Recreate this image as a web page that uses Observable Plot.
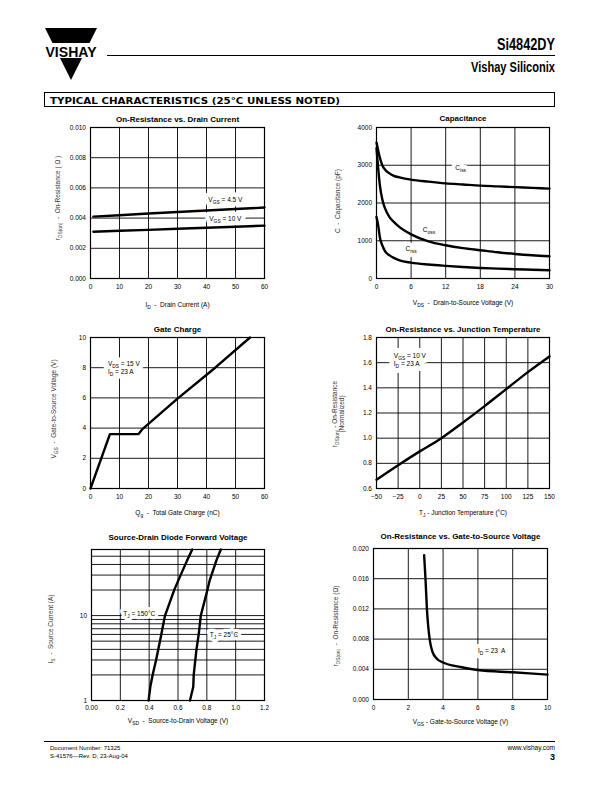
<!DOCTYPE html>
<html>
<head>
<meta charset="utf-8">
<script src="https://cdn.jsdelivr.net/npm/d3@7"></script>
<script src="https://cdn.jsdelivr.net/npm/@observablehq/plot@0.6"></script>
<style>
html, body { margin: 0; padding: 0; background: #fff; }
#page { position: relative; width: 612px; height: 792px; overflow: hidden; background: #fff; }
#page svg.chart { position: absolute; }
</style>
</head>
<body>
<div id="page">
<svg id="deco" width="612" height="792" style="position:absolute;left:0;top:0" font-family="Liberation Sans, Arial, Helvetica, sans-serif">
  <polygon points="45,28 97,28 71,80" fill="#000"/>
  <rect x="38" y="43" width="66" height="15" fill="#fff"/>
  <text x="71" y="57" text-anchor="middle" font-weight="bold" font-size="14" textLength="51" lengthAdjust="spacingAndGlyphs">VISHAY</text>
  <line x1="107" y1="55.5" x2="555" y2="55.5" stroke="#000" stroke-width="1"/>
  <text x="555" y="50" text-anchor="end" font-weight="bold" font-size="17" textLength="58" lengthAdjust="spacingAndGlyphs">Si4842DY</text>
  <text x="555" y="72" text-anchor="end" font-weight="bold" font-size="14" textLength="84" lengthAdjust="spacingAndGlyphs">Vishay Siliconix</text>
  <rect x="44.5" y="92.5" width="510" height="14" fill="none" stroke="#000" stroke-width="1"/>
  <text x="50" y="103.5" font-family="DejaVu Sans, sans-serif" font-weight="bold" font-size="9.5" textLength="290" lengthAdjust="spacingAndGlyphs">TYPICAL CHARACTERISTICS (25°C UNLESS NOTED)</text>
  <line x1="44" y1="741.5" x2="555" y2="741.5" stroke="#000" stroke-width="1"/>
  <text x="50" y="750" font-size="6">Document Number:  71325</text>
  <text x="50" y="758" font-size="6">S-41576—Rev. D, 23-Aug-04</text>
  <text x="555" y="750" text-anchor="end" font-size="6.5">www.vishay.com</text>
  <text x="555" y="760" text-anchor="end" font-size="9" font-weight="bold">3</text>
</svg>
</div>
<script>
const FONT = '"Liberation Sans", Arial, Helvetica, sans-serif';

// ---- Chart 1: On-Resistance vs. Drain Current ----
const c1Current = [1, 10, 20, 30, 40, 50, 60];
const c1Vgs45 = [0.00410, 0.00419, 0.00430, 0.00440, 0.00450, 0.00460, 0.00470];
const c1Vgs10 = [0.00310, 0.00316, 0.00322, 0.00329, 0.00336, 0.00343, 0.00350];
const c1XTicks = [0, 10, 20, 30, 40, 50, 60];
const c1YTicks = [0, 0.002, 0.004, 0.006, 0.008, 0.010];
const c1Notes = [
  {x: 46.5, y: 0.00522, text: "V_{GS} = 4.5 V"},
  {x: 46.5, y: 0.0040, text: "V_{GS} = 10 V"}
];

// ---- Chart 2: Capacitance ----
const c2VdsIss = [0, 0.5, 1, 1.5, 2, 3, 4, 6, 9, 12, 15, 18, 21, 24, 27, 30];
const c2Ciss = [3600, 3250, 3000, 2880, 2810, 2720, 2680, 2620, 2565, 2520, 2490, 2460, 2440, 2420, 2400, 2380];
const c2VdsOss = [0, 0.3, 0.6, 1, 1.5, 2.2, 3, 4, 6, 9, 12, 15, 18, 21, 24, 27, 30];
const c2Coss = [3450, 2900, 2450, 2100, 1850, 1640, 1500, 1360, 1170, 985, 880, 805, 750, 695, 650, 615, 590];
const c2VdsRss = [0, 0.3, 0.6, 1, 1.5, 2.2, 3, 4, 6, 9, 12, 15, 18, 21, 24, 27, 30];
const c2Crss = [1630, 1400, 1080, 880, 720, 620, 545, 480, 420, 370, 335, 305, 280, 262, 245, 232, 220];
const c2XTicks = [0, 6, 12, 18, 24, 30];
const c2YTicks = [0, 1000, 2000, 3000, 4000];
const c2Notes = [
  {x: 14.6, y: 2950, text: "C_{iss}"},
  {x: 9.1, y: 1310, text: "C_{oss}"},
  {x: 6.0, y: 790, text: "C_{rss}"}
];

// ---- Chart 3: Gate Charge ----
const c3Qg = [0, 6.7, 16.5, 18, 30, 43, 55];
const c3Vgs = [0, 3.6, 3.6, 3.95, 5.95, 8.0, 10];
const c3XTicks = [0, 10, 20, 30, 40, 50, 60];
const c3YTicks = [0, 2, 4, 6, 8, 10];
const c3Notes = [{x: 6, y: 8.0, text: "V_{DS} = 15 V\nI_{D} = 23 A"}];

// ---- Chart 4: On-Resistance vs. Junction Temperature ----
const c4Tj = [-50, -25, 0, 25, 50, 75, 100, 125, 150];
const c4Rds = [0.67, 0.785, 0.895, 1.0, 1.125, 1.255, 1.39, 1.525, 1.65];
const c4XTicks = [-50, -25, 0, 25, 50, 75, 100, 125, 150];
const c4YTicks = [0.6, 0.8, 1.0, 1.2, 1.4, 1.6, 1.8];
const c4Notes = [{x: -30, y: 1.625, text: "V_{GS} = 10 V\nI_{D} = 23 A"}];

// ---- Chart 5: Source-Drain Diode Forward Voltage ----
const c5Is150 = [1, 1.45, 2, 3, 5.3, 10, 20.5, 31, 45, 60];
const c5Vsd150 = [0.396, 0.408, 0.424, 0.448, 0.478, 0.51, 0.576, 0.622, 0.664, 0.699];
const c5Is25 = [1, 1.45, 2, 3.85, 6.1, 10, 20, 26, 45, 60];
const c5Vsd25 = [0.683, 0.706, 0.709, 0.727, 0.744, 0.758, 0.804, 0.82, 0.867, 0.897];
const c5XTicks = [0, 0.2, 0.4, 0.6, 0.8, 1.0, 1.2];
const c5YTicks = [1, 10, 60];
const c5YGrid = [1, 2, 3, 4, 5, 6, 7, 8, 9, 10, 20, 30, 40, 50, 60];
const c5Notes = [
  {x: 0.22, y: 10.7, text: "T_{J} = 150°C"},
  {x: 0.82, y: 6.0, text: "T_{J} = 25°C"}
];

// ---- Chart 6: On-Resistance vs. Gate-to-Source Voltage ----
const c6Vgs = [2.91, 2.99, 3.07, 3.14, 3.24, 3.39, 3.64, 4.0, 5.0, 6.0, 8.0, 10];
const c6Rds = [0.0191, 0.0159, 0.0120, 0.0098, 0.0078, 0.0063, 0.0054, 0.0049, 0.0043, 0.0039, 0.0036, 0.0033];
const c6XTicks = [0, 2, 4, 6, 8, 10];
const c6YTicks = [0, 0.004, 0.008, 0.012, 0.016, 0.020];
const c6Notes = [{x: 6.0, y: 0.0065, text: "I_{D} = 23\u00a0 A"}];

const SVGNS = "http://www.w3.org/2000/svg";
function subify(root) {
  const els = Array.from(root.querySelectorAll("text, tspan"));
  for (const el of els) {
    if (el.children.length) continue;
    const s = el.textContent;
    if (!s.includes("_{")) continue;
    el.textContent = "";
    const parts = s.split(/_\{([^}]*)\}/);
    parts.forEach((p, i) => {
      if (!p) return;
      const t = document.createElementNS(SVGNS, "tspan");
      t.textContent = p;
      if (i % 2) t.setAttribute("style", "font-size:75%;baseline-shift:-1.6px");
      el.appendChild(t);
    });
  }
}

const gridStyle = {stroke: "#000", strokeOpacity: 1, strokeWidth: 0.9};
const lineStyle = {stroke: "#000", strokeWidth: 2.4, strokeLinejoin: "round", strokeLinecap: "round"};

function chart(cfg) {
  const ML = 60, MT = 24, MR = 12, MB = 36;
  const f = cfg.frame;
  const width = f.r - f.l + ML + MR;
  const height = f.b - f.t + MT + MB;
  const noteOpts = {x: "x", y: "y", text: "text", textAnchor: cfg.noteAnchor || "start", lineAnchor: "middle", lineHeight: 1.25};
  const svg = Plot.plot({
    width, height,
    marginLeft: ML, marginRight: MR, marginTop: MT, marginBottom: MB,
    style: {fontFamily: FONT, fontSize: "6.5px", background: "none", color: "#000", overflow: "visible"},
    x: {domain: cfg.xDomain, type: cfg.xType || "linear"},
    y: {domain: cfg.yDomain, type: cfg.yType || "linear"},
    marks: [
      Plot.gridX(cfg.xGrid || cfg.xTicks, gridStyle),
      Plot.gridY(cfg.yGrid || cfg.yTicks, gridStyle),
      Plot.axisX(cfg.xTicks, {tickSize: 0, tickPadding: cfg.xPad ?? 5.5, tickFormat: cfg.xFormat, label: null}),
      Plot.axisY(cfg.yTicks, {tickSize: 0, tickPadding: 4.5, tickFormat: cfg.yFormat, label: null}),
      Plot.text(cfg.notes, {...noteOpts, fill: "#fff", stroke: "#fff", strokeWidth: cfg.halo || 9, strokeLinejoin: "round"}),
      Plot.text(cfg.notes, {...noteOpts, fill: "#000"}),
      Plot.frame({stroke: "#000", strokeWidth: 1.2}),
      ...cfg.lines.map(l => Plot.line(l.x, {x: l.x, y: l.y, curve: cfg.curve || "monotone-x", ...lineStyle})),
      Plot.text([cfg.title], {text: d => d, frameAnchor: "top", textAnchor: "middle", lineAnchor: "middle", dy: cfg.titleDy, fontWeight: "bold", fontSize: 8}),
      Plot.text([cfg.xLabel], {text: d => d, frameAnchor: "bottom", textAnchor: "middle", lineAnchor: "middle", dy: cfg.xLabelDy}),
      Plot.text([cfg.yLabel], {text: d => d, frameAnchor: "left", textAnchor: "middle", lineAnchor: "middle", rotate: -90, dx: cfg.yLabelDx, dy: cfg.yLabelDy || 0, fill: "#333", lineHeight: 1.1})
    ]
  });
  subify(svg);
  svg.classList.add("chart");
  svg.style.left = (f.l - ML) + "px";
  svg.style.top = (f.t - MT) + "px";
  document.getElementById("page").appendChild(svg);
}

const fmt3 = d3.format(".3f");
const fmtD = d3.format("d");

chart({
  frame: {l: 90, r: 264, t: 127, b: 278},
  xDomain: [0, 60], yDomain: [0, 0.010],
  xTicks: c1XTicks, yTicks: c1YTicks, yFormat: fmt3, xFormat: fmtD,
  lines: [{x: c1Current, y: c1Vgs45}, {x: c1Current, y: c1Vgs10}],
  curve: "linear",
  notes: c1Notes, noteAnchor: "middle",
  title: "On-Resistance vs. Drain Current", titleDy: -8.5,
  xLabel: "I_{D}\u00a0 - \u00a0Drain Current (A)", xLabelDy: 26,
  yLabel: "r_{DS(on)}\u00a0 - \u00a0On-Resistance ( Ω )", yLabelDx: -33, yLabelDy: -5
});

chart({
  frame: {l: 376, r: 549, t: 127, b: 278},
  xDomain: [0, 30], yDomain: [0, 4000],
  xTicks: c2XTicks, yTicks: c2YTicks, yFormat: fmtD, xFormat: fmtD,
  lines: [{x: c2VdsIss, y: c2Ciss}, {x: c2VdsOss, y: c2Coss}, {x: c2VdsRss, y: c2Crss}],
  notes: c2Notes, noteAnchor: "middle", halo: 8,
  title: "Capacitance", titleDy: -8.7,
  xLabel: "V_{DS}\u00a0 - \u00a0Drain-to-Source Voltage (V)", xLabelDy: 24.5,
  yLabel: "C\u00a0 - \u00a0Capacitance (pF)", yLabelDx: -39, yLabelDy: -2
});

chart({
  frame: {l: 90, r: 264, t: 337, b: 488},
  xDomain: [0, 60], yDomain: [0, 10],
  xTicks: c3XTicks, yTicks: c3YTicks, xFormat: fmtD, yFormat: fmtD,
  lines: [{x: c3Qg, y: c3Vgs}],
  curve: "linear",
  notes: c3Notes, noteAnchor: "start", halo: 10,
  title: "Gate Charge", titleDy: -8,
  xLabel: "Q_{g}\u00a0 - \u00a0Total Gate Charge (nC)", xLabelDy: 24.5,
  yLabel: "V_{GS}\u00a0 - \u00a0Gate-to-Source Voltage (V)", yLabelDx: -37, yLabelDy: -4
});

chart({
  frame: {l: 376, r: 549, t: 337, b: 488},
  xDomain: [-50, 150], yDomain: [0.6, 1.8],
  xTicks: c4XTicks, yTicks: c4YTicks, yFormat: d3.format(".1f"),
  lines: [{x: c4Tj, y: c4Rds}],
  notes: c4Notes, noteAnchor: "start", halo: 10,
  title: "On-Resistance vs. Junction Temperature", titleDy: -8,
  xLabel: "T_{J} - Junction Temperature (°C)", xLabelDy: 24.5,
  yLabel: "r_{DS(on)} - On-Resistance\n(Normalized)", yLabelDx: -38.5, yLabelDy: 1
});

chart({
  frame: {l: 91, r: 264, t: 549, b: 700},
  xDomain: [0, 1.2], yDomain: [1, 60], yType: "log",
  xTicks: c5XTicks, yTicks: c5YTicks, yGrid: c5YGrid,
  xFormat: d => d === 0 ? "0.00" : d.toFixed(1), yFormat: fmtD, xPad: 5,
  lines: [{x: c5Vsd150, y: c5Is150}, {x: c5Vsd25, y: c5Is25}],
  curve: "linear",
  notes: c5Notes, noteAnchor: "start", halo: 6.5,
  title: "Source-Drain Diode Forward Voltage", titleDy: -12,
  xLabel: "V_{SD}\u00a0 - \u00a0Source-to-Drain Voltage (V)", xLabelDy: 20.5,
  yLabel: "I_{S}\u00a0 - \u00a0Source Current (A)", yLabelDx: -41, yLabelDy: 4
});

chart({
  frame: {l: 373, r: 547, t: 548, b: 699},
  xDomain: [0, 10], yDomain: [0, 0.020],
  xTicks: c6XTicks, yTicks: c6YTicks, xFormat: fmtD, yFormat: fmt3,
  lines: [{x: c6Vgs, y: c6Rds}],
  notes: c6Notes, noteAnchor: "start", halo: 8,
  title: "On-Resistance vs. Gate-to-Source Voltage", titleDy: -11.7,
  xLabel: "V_{GS} - Gate-to-Source Voltage (V)", xLabelDy: 22.5,
  yLabel: "r_{DS(on)}\u00a0 - \u00a0On-Resistance (Ω)", yLabelDx: -38, yLabelDy: 2
});
</script>
</body>
</html>
